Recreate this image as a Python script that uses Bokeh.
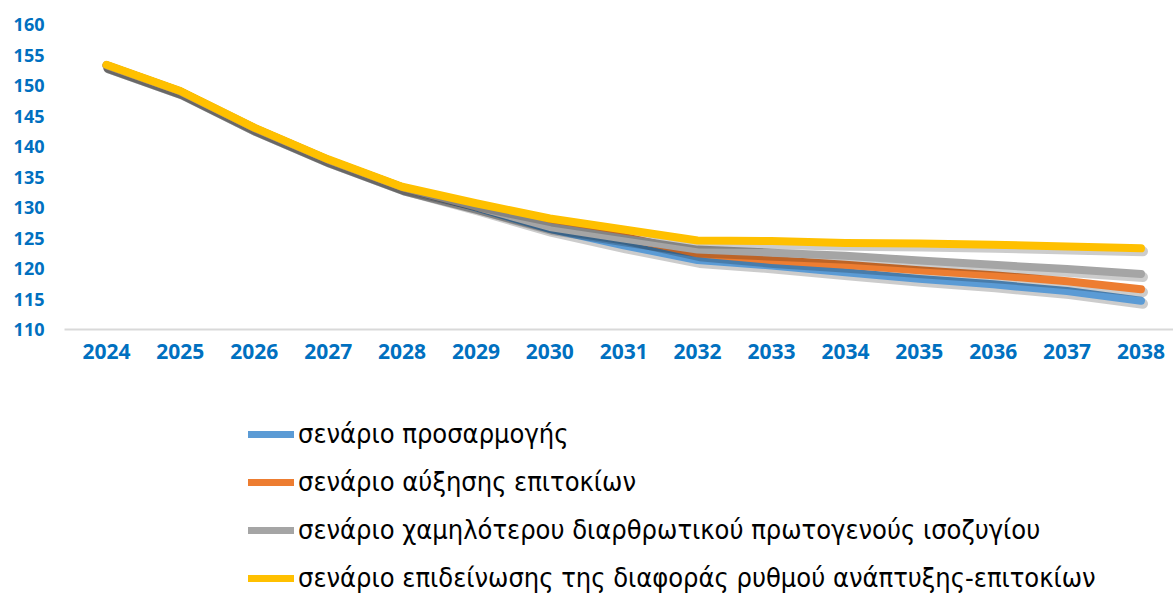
from bokeh.plotting import figure
from bokeh.models import Legend, LegendItem, FixedTicker, Range1d
from bokeh.layouts import column
from bokeh.embed import file_html
from bokeh.resources import INLINE

years = list(range(2024, 2039))
year_labels = [str(y) for y in years]

adjustment = [153.3, 149.0, 143.0, 137.8, 133.3, 130.0, 126.5, 123.8, 121.4,
              120.5, 119.4, 118.3, 117.4, 116.3, 114.7]
rate_rise = [153.3, 149.0, 143.0, 137.8, 133.3, 130.2, 127.0, 125.2, 122.5,
             121.4, 120.6, 119.7, 118.9, 117.9, 116.6]
lower_balance = [153.3, 149.0, 143.0, 137.8, 133.3, 130.2, 126.8, 124.9, 123.1,
                 122.6, 122.1, 121.3, 120.6, 119.9, 119.1]
worse_gap = [153.4, 149.1, 143.1, 137.9, 133.4, 130.7, 128.2, 126.4, 124.6,
             124.5, 124.2, 124.1, 123.9, 123.6, 123.3]

series_names = ["σενάριο προσαρμογής",
                "σενάριο αύξησης επιτοκίων",
                "σενάριο χαμηλότερου διαρθρωτικού πρωτογενούς ισοζυγίου",
                "σενάριο επιδείνωσης της διαφοράς ρυθμού ανάπτυξης-επιτοκίων"]
series_values = [adjustment, rate_rise, lower_balance, worse_gap]
series_colors = ["#5B9BD5", "#ED7D31", "#A5A5A5", "#FFC000"]

y_ticks = list(range(110, 161, 5))

TICK_COLOR = "#0070C0"

p = figure(width=1173, height=380, output_backend="svg", toolbar_location=None,
           x_range=Range1d(2023.432, 2038.44), y_range=Range1d(110, 160),
           min_border_left=64, min_border_right=0, min_border_top=24,
           min_border_bottom=51)
p.outline_line_color = None
p.xgrid.visible = False
p.ygrid.visible = False

# axes
p.xaxis.ticker = FixedTicker(ticks=years)
p.xaxis.major_label_overrides = {y: l for y, l in zip(years, year_labels)}
p.xaxis.axis_line_color = "#D9D9D9"
p.xaxis.axis_line_width = 2
p.xaxis.major_tick_line_color = None
p.xaxis.minor_tick_line_color = None
p.xaxis.major_tick_out = 0
p.xaxis.major_label_text_color = TICK_COLOR
p.xaxis.major_label_text_font = "Open Sans"
p.xaxis.major_label_text_font_style = "bold"
p.xaxis.major_label_text_font_size = "21px"
p.xaxis.major_label_standoff = 14

p.yaxis.ticker = FixedTicker(ticks=y_ticks)
p.yaxis.axis_line_color = None
p.yaxis.major_tick_line_color = None
p.yaxis.minor_tick_line_color = None
p.yaxis.major_tick_out = 0
p.yaxis.major_label_text_color = TICK_COLOR
p.yaxis.major_label_text_font = "Open Sans"
p.yaxis.major_label_text_font_style = "bold"
p.yaxis.major_label_text_font_size = "18px"
p.yaxis.major_label_standoff = 20

dx = 2.0 / 73.9
dy = 3.0 / 6.12
for vals, col in zip(series_values, series_colors):
    xs_sh = [x + dx for x in years]
    ys_sh = [v - dy for v in vals]
    p.line(xs_sh, ys_sh, line_color="black", line_alpha=0.2, line_width=10,
           line_cap="round", line_join="round")
    p.line(years, vals, line_color=col, line_width=8,
           line_cap="round", line_join="round")

# legend figure
q = figure(width=1173, height=213, output_backend="svg", toolbar_location=None,
           x_axis_location=None, y_axis_location=None,
           min_border_left=0, min_border_right=0, min_border_top=0,
           min_border_bottom=0)
q.outline_line_color = None
q.xgrid.visible = False
q.ygrid.visible = False

nan = float("nan")
items = []
for name, col in zip(series_names, series_colors):
    r = q.line(x=[nan], y=[nan], line_color=col, line_width=7, line_cap="round")
    items.append(LegendItem(label=name, renderers=[r]))

legend = Legend(items=items, location=(184, 0), orientation="vertical",
                glyph_width=46, glyph_height=24, label_height=24,
                label_standoff=4, spacing=17, padding=0, margin=0,
                border_line_alpha=0, background_fill_alpha=0,
                label_text_font="DejaVu Sans Condensed",
                label_text_font_size="27px", label_text_color="black")
q.add_layout(legend, "center")

layout = column(p, q, spacing=0)
open("out.html", "w").write(file_html(layout, INLINE))
